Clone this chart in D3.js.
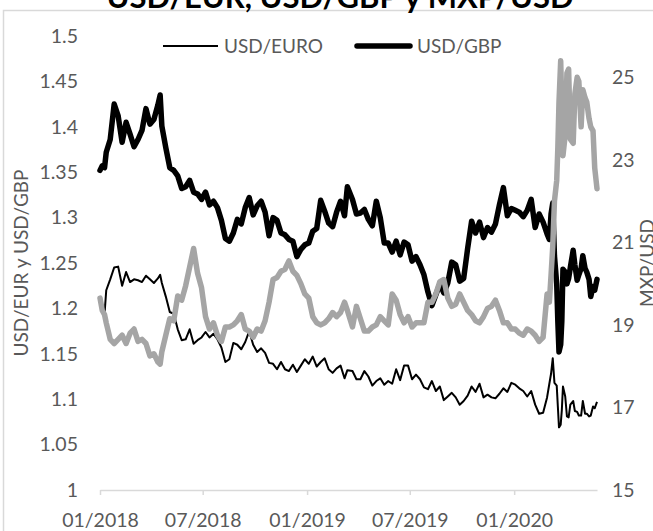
<!DOCTYPE html>
<html>
<head>
<meta charset="utf-8">
<script src="https://cdn.jsdelivr.net/npm/d3@7"></script>
<style>
    body { margin: 0; background: #fff; }
    svg { display: block; }
    text { font-family: Lato, "Open Sans", sans-serif; fill: #595959; }
</style>
</head>
<body>
<svg id="svg" width="653" height="531"></svg>
<script>
// weekly readings (denser around March 2020)
const dates = [
    "2018-01-01", "2018-01-05", "2018-01-09", "2018-01-12", "2018-01-19", "2018-01-26",
    "2018-02-02", "2018-02-09", "2018-02-16", "2018-02-23",
    "2018-03-02", "2018-03-09", "2018-03-16", "2018-03-23", "2018-03-30",
    "2018-04-06", "2018-04-13", "2018-04-17", "2018-04-20", "2018-04-27",
    "2018-05-04", "2018-05-11", "2018-05-18", "2018-05-25",
    "2018-06-01", "2018-06-08", "2018-06-15", "2018-06-22", "2018-06-29",
    "2018-07-06", "2018-07-13", "2018-07-20", "2018-07-27",
    "2018-08-03", "2018-08-10", "2018-08-17", "2018-08-24", "2018-08-31",
    "2018-09-07", "2018-09-14", "2018-09-21", "2018-09-28",
    "2018-10-05", "2018-10-12", "2018-10-19", "2018-10-26",
    "2018-11-02", "2018-11-09", "2018-11-16", "2018-11-23", "2018-11-30",
    "2018-12-07", "2018-12-14", "2018-12-21", "2018-12-28",
    "2019-01-04", "2019-01-11", "2019-01-18", "2019-01-25",
    "2019-02-01", "2019-02-08", "2019-02-15", "2019-02-22",
    "2019-03-01", "2019-03-08", "2019-03-13", "2019-03-22", "2019-03-29",
    "2019-04-05", "2019-04-12", "2019-04-19", "2019-04-26",
    "2019-05-03", "2019-05-10", "2019-05-17", "2019-05-24", "2019-05-31",
    "2019-06-07", "2019-06-14", "2019-06-21", "2019-06-28",
    "2019-07-05", "2019-07-12", "2019-07-19", "2019-07-26",
    "2019-08-02", "2019-08-09", "2019-08-16", "2019-08-23", "2019-08-30",
    "2019-09-06", "2019-09-13", "2019-09-20", "2019-09-27",
    "2019-10-04", "2019-10-11", "2019-10-18", "2019-10-25",
    "2019-11-01", "2019-11-08", "2019-11-15", "2019-11-22", "2019-11-29",
    "2019-12-06", "2019-12-13", "2019-12-20", "2019-12-27",
    "2020-01-03", "2020-01-10", "2020-01-17", "2020-01-24", "2020-01-31",
    "2020-02-07", "2020-02-14", "2020-02-21", "2020-02-28",
    "2020-03-03", "2020-03-06", "2020-03-09", "2020-03-12", "2020-03-16", "2020-03-18",
    "2020-03-20", "2020-03-23", "2020-03-25", "2020-03-27", "2020-03-31",
    "2020-04-03", "2020-04-06", "2020-04-09", "2020-04-14", "2020-04-17",
    "2020-04-21", "2020-04-24", "2020-04-28",
    "2020-05-01", "2020-05-05", "2020-05-08", "2020-05-12", "2020-05-15",
    "2020-05-19", "2020-05-22", "2020-05-26"
];

const usdEur = [
    1.201, 1.203, 1.194, 1.220, 1.232, 1.245,
    1.246, 1.225, 1.240, 1.229,
    1.232, 1.231, 1.229, 1.236, 1.232,
    1.228, 1.233, 1.237, 1.228, 1.213,
    1.196, 1.194, 1.177, 1.165,
    1.166, 1.177, 1.161, 1.165, 1.168,
    1.174, 1.168, 1.172, 1.166,
    1.157, 1.141, 1.144, 1.162, 1.160,
    1.155, 1.163, 1.175, 1.160,
    1.152, 1.156, 1.151, 1.140,
    1.139, 1.133, 1.141, 1.133, 1.131,
    1.138, 1.130, 1.137, 1.144,
    1.139, 1.147, 1.136, 1.141,
    1.145, 1.133, 1.129, 1.134,
    1.137, 1.123, 1.132, 1.131, 1.122,
    1.122, 1.131, 1.125, 1.115,
    1.120, 1.123, 1.116, 1.120, 1.117,
    1.133, 1.121, 1.137, 1.137,
    1.122, 1.127, 1.122, 1.113,
    1.111, 1.120, 1.109, 1.114, 1.099,
    1.103, 1.107, 1.102, 1.094,
    1.098, 1.104, 1.114, 1.108,
    1.117, 1.102, 1.105, 1.102, 1.101,
    1.106, 1.112, 1.108, 1.118,
    1.116, 1.112, 1.109, 1.103, 1.109,
    1.094, 1.084, 1.085, 1.102,
    1.117, 1.128, 1.145, 1.118, 1.115, 1.092,
    1.069, 1.072, 1.088, 1.114, 1.103,
    1.081, 1.080, 1.094, 1.098, 1.087,
    1.086, 1.082, 1.082,
    1.098, 1.084, 1.084, 1.081, 1.082,
    1.092, 1.090, 1.097
];

const usdGbp = [
    1.352, 1.357, 1.355, 1.372, 1.386, 1.425,
    1.412, 1.383, 1.405, 1.392,
    1.378, 1.386, 1.396, 1.420, 1.403,
    1.408, 1.424, 1.435, 1.401, 1.377,
    1.355, 1.352, 1.346, 1.332,
    1.334, 1.341, 1.328, 1.326, 1.320,
    1.328, 1.314, 1.318, 1.311,
    1.297, 1.277, 1.274, 1.283, 1.298,
    1.293, 1.311, 1.322, 1.303,
    1.313, 1.318, 1.306, 1.280,
    1.300, 1.297, 1.283, 1.281, 1.276,
    1.274, 1.257, 1.265, 1.270,
    1.272, 1.285, 1.288, 1.319,
    1.307, 1.294, 1.290, 1.306,
    1.318, 1.302, 1.334, 1.320, 1.304,
    1.305, 1.309, 1.298, 1.291,
    1.318, 1.300, 1.272, 1.272, 1.262,
    1.274, 1.259, 1.273, 1.270,
    1.252, 1.257, 1.248, 1.237,
    1.218, 1.203, 1.215, 1.227, 1.217,
    1.228, 1.251, 1.248, 1.230,
    1.233, 1.266, 1.296, 1.283,
    1.295, 1.278, 1.289, 1.284, 1.293,
    1.314, 1.333, 1.302, 1.310,
    1.308, 1.306, 1.301, 1.308, 1.320,
    1.289, 1.304, 1.295, 1.282,
    1.276, 1.304, 1.316, 1.258, 1.227, 1.185,
    1.152, 1.160, 1.186, 1.243, 1.240,
    1.227, 1.233, 1.245, 1.264, 1.248,
    1.231, 1.237, 1.244,
    1.258, 1.244, 1.240, 1.232, 1.213,
    1.224, 1.220, 1.232
];

const mxpUsd = [
    19.65, 19.35, 19.25, 19.05, 18.65, 18.55,
    18.65, 18.75, 18.55, 18.80,
    18.90, 18.60, 18.65, 18.55, 18.25,
    18.30, 18.10, 18.05, 18.35, 18.75,
    19.15, 19.10, 19.70, 19.60,
    19.95, 20.40, 20.85, 20.25, 19.90,
    19.20, 18.90, 19.05, 18.75,
    18.60, 18.95, 18.95, 19.00, 19.10,
    19.25, 18.90, 18.85, 18.70,
    18.90, 18.85, 19.10, 19.55,
    20.10, 20.15, 20.30, 20.35, 20.55,
    20.30, 20.20, 20.00, 19.75,
    19.65, 19.20, 19.05, 19.00,
    19.05, 19.15, 19.30, 19.20,
    19.30, 19.55, 19.35, 18.95, 19.45,
    19.15, 18.85, 18.85, 18.95,
    19.00, 19.20, 19.10, 19.00, 19.75,
    19.60, 19.25, 19.05, 19.20,
    18.95, 19.05, 19.05, 19.05,
    19.55, 19.55, 19.75, 20.05, 20.10,
    19.65, 19.45, 19.50, 19.75,
    19.55, 19.35, 19.25, 19.10,
    19.05, 19.20, 19.40, 19.45, 19.60,
    19.35, 19.05, 19.05, 18.90,
    18.90, 18.80, 18.75, 18.90, 18.85,
    18.75, 18.60, 18.70, 19.75,
    19.55, 20.20, 20.90, 22.00, 22.50, 23.30,
    24.40, 25.40, 24.30, 23.10, 23.60,
    25.10, 25.20, 23.50, 23.40, 24.60,
    25.00, 24.90, 23.80,
    24.70, 24.50, 24.40, 24.00, 23.80,
    23.70, 22.80, 22.30
];

const xTicks = ["2018-01-01", "2018-07-01", "2019-01-01", "2019-07-01", "2020-01-01"];
const leftTicks = [1, 1.05, 1.1, 1.15, 1.2, 1.25, 1.3, 1.35, 1.4, 1.45, 1.5];
const rightTicks = [15, 17, 19, 21, 23, 25];

const parse = d3.timeParse("%Y-%m-%d");
const rows = dates.map((d, i) => ({
    date: parse(d),
    eur: usdEur[i],
    gbp: usdGbp[i],
    mxp: mxpUsd[i]
}));

const svg = d3.select("#svg");
const plotLeft = 100, plotRight = 597, plotTop = 36, plotBottom = 490;

const x = d3.scaleTime()
    .domain([parse("2018-01-01"), parse("2020-05-26")])
    .range([plotLeft, plotRight]);
const yL = d3.scaleLinear().domain([1, 1.5]).range([plotBottom, plotTop]);
const yR = d3.scaleLinear().domain([15, 26]).range([plotBottom, plotTop]);

// chart frame (cropped in the original)
svg.append("rect")
    .attr("x", 3.5).attr("y", 10.5)
    .attr("width", 720).attr("height", 600)
    .attr("fill", "none")
    .attr("stroke", "#d9d9d9")
    .attr("stroke-width", 1.5);

svg.append("text")
    .attr("x", 340).attr("y", 8)
    .attr("text-anchor", "middle")
    .style("font-size", "31px")
    .style("font-weight", "bold")
    .style("fill", "#000")
    .text("USD/EUR, USD/GBP y MXP/USD");

// axes
const gx = svg.append("g")
    .attr("transform", `translate(0,${plotBottom})`)
    .call(d3.axisBottom(x)
        .tickValues(xTicks.map(parse))
        .tickFormat(d3.timeFormat("%m/%Y"))
        .tickSize(5)
        .tickSizeOuter(0)
        .tickPadding(18));
gx.select(".domain").attr("stroke", "#d9d9d9").attr("stroke-width", 1.5);
gx.selectAll(".tick line").attr("stroke", "#d9d9d9").attr("stroke-width", 1.5);

const gl = svg.append("g")
    .attr("transform", `translate(${plotLeft},0)`)
    .call(d3.axisLeft(yL).tickValues(leftTicks).tickFormat(d => d).tickSize(0).tickPadding(22));
gl.select(".domain").remove();

const gr = svg.append("g")
    .attr("transform", `translate(${plotRight},0)`)
    .call(d3.axisRight(yR).tickValues(rightTicks).tickSize(0).tickPadding(15));
gr.select(".domain").remove();

svg.selectAll(".tick text")
    .style("font-size", "19.5px")
    .style("fill", "#595959")
    .attr("font-family", null);

svg.append("text")
    .attr("transform", `translate(28,${(plotTop + plotBottom) / 2}) rotate(-90)`)
    .attr("text-anchor", "middle")
    .style("font-size", "19px")
    .text("USD/EUR y USD/GBP");

svg.append("text")
    .attr("transform", `translate(654,${(plotTop + plotBottom) / 2}) rotate(-90)`)
    .attr("text-anchor", "middle")
    .style("font-size", "19px")
    .text("MXP/USD");

// series
const lineEur = d3.line().x(d => x(d.date)).y(d => yL(d.eur));
const lineGbp = d3.line().x(d => x(d.date)).y(d => yL(d.gbp));
const lineMxp = d3.line().x(d => x(d.date)).y(d => yR(d.mxp));

svg.append("path")
    .datum(rows)
    .attr("fill", "none")
    .attr("stroke", "#000")
    .attr("stroke-width", 5.5)
    .attr("stroke-linejoin", "round")
    .attr("stroke-linecap", "round")
    .attr("d", lineGbp);

svg.append("path")
    .datum(rows)
    .attr("fill", "none")
    .attr("stroke", "#000")
    .attr("stroke-width", 2)
    .attr("stroke-linejoin", "round")
    .attr("d", lineEur);

svg.append("path")
    .datum(rows)
    .attr("fill", "none")
    .attr("stroke", "#a5a5a5")
    .attr("stroke-width", 5.5)
    .attr("stroke-linejoin", "round")
    .attr("stroke-linecap", "round")
    .attr("d", lineMxp);

// legend
const legend = svg.append("g");
legend.append("line")
    .attr("x1", 163).attr("x2", 218).attr("y1", 46).attr("y2", 46)
    .attr("stroke", "#000").attr("stroke-width", 2);
legend.append("text")
    .attr("x", 224).attr("y", 46).attr("dy", "0.35em")
    .style("font-size", "19px")
    .text("USD/EURO");
legend.append("line")
    .attr("x1", 357).attr("x2", 410).attr("y1", 46).attr("y2", 46)
    .attr("stroke", "#000").attr("stroke-width", 5.5)
    .attr("stroke-linecap", "round");
legend.append("text")
    .attr("x", 417).attr("y", 46).attr("dy", "0.35em")
    .style("font-size", "19px")
    .text("USD/GBP");
</script>
</body>
</html>
